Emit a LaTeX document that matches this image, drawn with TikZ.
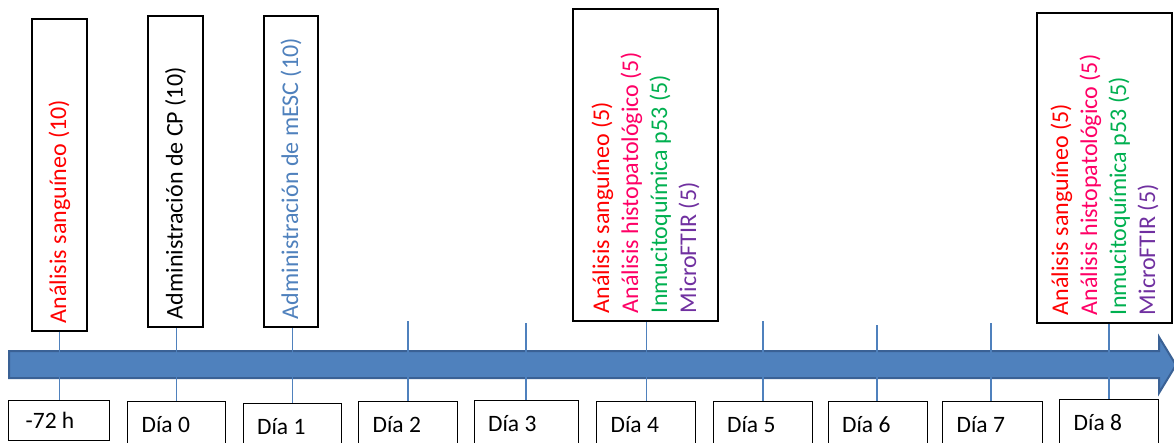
\documentclass[tikz,border=0pt]{standalone}
\usepackage{fontspec}
\setmainfont{Carlito}
\definecolor{obl}{HTML}{4F81BD}
\definecolor{obldark}{HTML}{3A6195}
\definecolor{ored}{HTML}{FF0000}
\definecolor{opink}{HTML}{FF0066}
\definecolor{ogreen}{HTML}{00B050}
\definecolor{opurple}{HTML}{7030A0}
\tikzset{
  topbox/.style n args={2}{draw=black, line width=1.3pt, rotate=90,
    minimum width=#1, minimum height=#2, text width=#1-16pt, inner xsep=8pt,
    text badly ragged, font=\fontsize{24}{29}\selectfont},
  daybox/.style={draw=black, line width=1.3pt, anchor=north west,
    minimum height=46pt, text width=#1, inner xsep=14pt, text badly ragged,
    font=\fontsize{23.5}{28}\selectfont},
  tick/.style={draw=obl, line width=1.2pt},
  timeline/.style={fill=obl, draw=obldark, line width=2pt, line join=miter}
}
\begin{document}
\begin{tikzpicture}[x=1pt,y=-1pt]
\useasboundingbox (0,0) rectangle (1174,442);
\clip (0,0) rectangle (1174,442);
\fill[white] (0,0) rectangle (1174,442);
% timeline arrow
\draw[timeline] (9,351) -- (1159,351) -- (1159,337) -- (1176,365) -- (1159,393) -- (1159,378) -- (9,378) -- cycle;
% top boxes
\node[topbox={312pt}{55pt}] (t1) at (59.5,175) {\textcolor{ored}{Análisis sanguíneo (10)}};
\node[topbox={311pt}{55pt}] (t2) at (175.5,171.5) {\textcolor{black}{Administración de CP (10)}};
\node[topbox={311pt}{54pt}] (t3) at (291,171.5) {\textcolor{obl}{Administración de mESC (10)}};
\node[topbox={312pt}{145pt}] (t4) at (645.5,165) {\textcolor{ored}{Análisis sanguíneo (5)}\\\textcolor{opink}{Análisis histopatológico (5)}\\\textcolor{ogreen}{Inmucitoquímica p53 (5)}\\\textcolor{opurple}{MicroFTIR (5)}};
\node[topbox={310pt}{135pt}] (t5) at (1104.5,168) {\textcolor{ored}{Análisis sanguíneo (5)}\\\textcolor{opink}{Análisis histopatológico (5)}\\\textcolor{ogreen}{Inmucitoquímica p53 (5)}\\\textcolor{opurple}{MicroFTIR (5)}};
% day boxes
\node[daybox=67pt, inner xsep=17pt, minimum height=40pt] (dm) at (8,400) {-72 h};
\node[daybox=70pt] (d0) at (127,401) {Día 0};
\node[daybox=70.5pt] (d1) at (242.5,403) {Día 1};
\node[daybox=71pt] (d2) at (358,401) {Día 2};
\node[daybox=76.5pt] (d3) at (473.5,400) {Día 3};
\node[daybox=71pt] (d4) at (596,401) {Día 4};
\node[daybox=71pt] (d5) at (712.5,401) {Día 5};
\node[daybox=71pt] (d6) at (827.5,401) {Día 6};
\node[daybox=71.5pt] (d7) at (942,401) {Día 7};
\node[daybox=70.5pt] (d8) at (1059,399) {Día 8};
% free tick ends
\coordinate (c2) at (408,321);
\coordinate (c3) at (526,323);
\coordinate (c5) at (763,321);
\coordinate (c6) at (877,325);
\coordinate (c7) at (991,323);
% ticks
\draw[tick] (t1.west) -- (t1.west |- dm.north);
\draw[tick] (d0.north) -- (d0.north |- t2.west);
\draw[tick] (d1.north) -- (d1.north |- t3.west);
\draw[tick] (c2) -- (c2 |- d2.north);
\draw[tick] (c3) -- (c3 |- d3.north);
\draw[tick] (d4.north) -- (d4.north |- t4.west);
\draw[tick] (c5) -- (c5 |- d5.north);
\draw[tick] (c6) -- (c6 |- d6.north);
\draw[tick] (c7) -- (c7 |- d7.north);
\draw[tick] (d8.north) -- (d8.north |- t5.west);
\end{tikzpicture}
\end{document}
